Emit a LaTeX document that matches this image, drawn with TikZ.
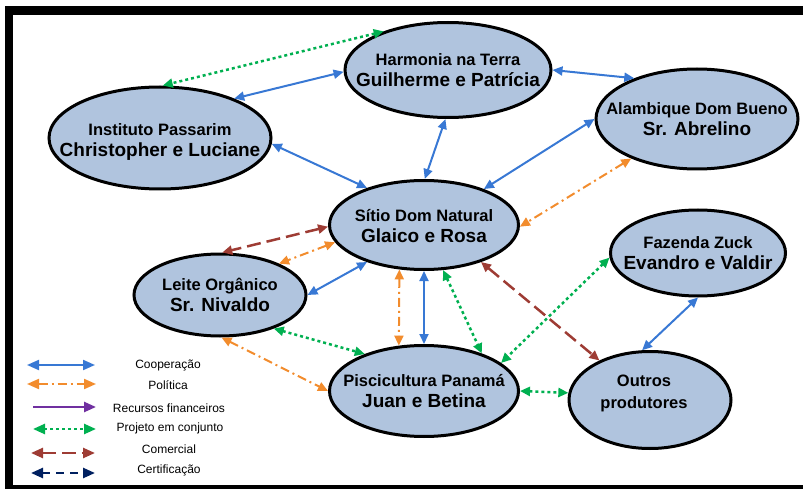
\documentclass[tikz,border=0pt]{standalone}
\usepackage{fontspec}
\setmainfont{Liberation Sans}
\usetikzlibrary{shapes.geometric,arrows.meta}
\definecolor{nodefill}{RGB}{176,196,222}
\definecolor{coopblue}{RGB}{56,120,212}
\definecolor{polorange}{RGB}{242,140,45}
\definecolor{finpurple}{RGB}{112,48,160}
\definecolor{projgreen}{RGB}{0,176,80}
\definecolor{combrown}{RGB}{158,60,52}
\definecolor{certnavy}{RGB}{0,32,96}
\newcommand{\fsA}{\fontsize{16.5}{21}\selectfont}
\newcommand{\fsB}{\fontsize{19}{21}\selectfont}
% two-line label that does not enlarge the ellipse
\newcommand{\twolines}[3]{\makebox[0pt]{\raisebox{#3}[0pt][0pt]{\begin{tabular}{@{}c@{}}#1\\#2\end{tabular}}}}
\begin{document}
\begin{tikzpicture}[x=1pt,y=-1pt,
  >={Triangle[length=10pt,width=9pt]},
  org/.style={ellipse, draw=black, line width=3pt, fill=nodefill, inner sep=0pt,
    font=\bfseries\fsA},
  coop/.style={draw=coopblue, line width=2pt, <->},
  pol/.style={draw=polorange, line width=2pt, dash pattern=on 9pt off 4pt on 2pt off 4pt, <->},
  fin/.style={draw=finpurple, line width=2.5pt, ->},
  proj/.style={draw=projgreen, line width=2.5pt, dash pattern=on 3pt off 3pt, <->},
  com/.style={draw=combrown, line width=2.5pt, dash pattern=on 14pt off 6pt, <->},
  cert/.style={draw=certnavy, line width=2.5pt, dash pattern=on 8pt off 6pt, <->},
  legtext/.style={font=\fontsize{12}{14}\selectfont, inner sep=0pt},
  legarrow/.style={>={Triangle[length=12pt,width=10pt]}}
]
\useasboundingbox (0,0) rectangle (803,489);
% frame
\fill[black] (5,6) rectangle (803,15);
\fill[black] (5,6) rectangle (13,489);
\fill[black] (5,485) rectangle (803,489);

% nodes
\node[org, minimum width=206pt, minimum height=95pt] (H) at (448,70)
  {\twolines{Harmonia na Terra}{\fsB Guilherme e Patrícia}{-6pt}};
\node[org, minimum width=222pt, minimum height=102pt] (I) at (160,138)
  {\twolines{Instituto Passarim}{\fsB Christopher e Luciane}{-8pt}};
\node[org, minimum width=202pt, minimum height=100pt] (A) at (697,119)
  {\twolines{Alambique Dom Bueno}{\fsB Sr. Abrelino}{-6pt}};
\node[org, minimum width=189pt, minimum height=89pt] (S) at (424,225)
  {\twolines{Sítio Dom Natural}{\fsB Glaico e Rosa}{-7pt}};
\node[org, minimum width=172pt, minimum height=82pt] (L) at (220,295)
  {\twolines{Leite Orgânico}{\fsB Sr. Nivaldo}{-6pt}};
\node[org, minimum width=189pt, minimum height=91pt] (P) at (424,391)
  {\twolines{Piscicultura Panamá}{\fsB Juan e Betina}{-6pt}};
\node[org, minimum width=175pt, minimum height=86pt] (F) at (698,253)
  {\twolines{Fazenda Zuck}{\fsB Evandro e Valdir}{-6pt}};
\node[org, minimum width=162pt, minimum height=97pt] (O) at (650,400)
  {\hspace*{-12pt}\makebox[0pt]{\raisebox{3pt}[0pt][0pt]{\fontsize{16.5}{22}\selectfont\begin{tabular}{@{}c@{}}Outros\\produtores\end{tabular}}}};

% cooperation
\draw[coop] (H.181) -- (I.28);
\draw[coop] (H.0) -- (A.147);
\draw[coop] (H.267) -- (S.89);
\draw[coop] (I.357) -- (S.147);
\draw[coop] (A.180) -- (S.31);
\draw[coop] (S.213) -- (L.0);
\draw[coop] (S.270) -- (P.90);
\draw[coop] (F.270) -- (O.99);
% politics
\draw[pol] (A.211) -- (S.359);
\draw[pol] (S.191) -- (L.28);
\draw[pol] (S.241) -- (P.119.5);
\draw[pol] (L.272) -- (P.180);
% joint project
\draw[proj] (H.149) -- (I.87);
\draw[proj] (L.328.5) -- (P.148);
\draw[proj] (S.293.6) -- (P.33);
\draw[proj] (F.183) -- (P.20);
\draw[proj] (P.0) -- (O.175);
% commercial
\draw[com] (S.181) -- (L.87);
\draw[com] (S.327) -- (O.142);

% legend
\coordinate (l1a) at (27,365); \coordinate (l1b) at (95,365);
\coordinate (l2a) at (27,384); \coordinate (l2b) at (96,384);
\coordinate (l3a) at (33,407); \coordinate (l3b) at (96,407);
\coordinate (l4a) at (33,429); \coordinate (l4b) at (96,429);
\coordinate (l5a) at (31,453); \coordinate (l5b) at (95,453);
\coordinate (l6a) at (31,473); \coordinate (l6b) at (95,473);
\begin{scope}[legarrow]
\draw[coop] (l1a) -- (l1b);
\draw[pol] (l2a) -- (l2b);
\draw[fin] (l3a) -- (l3b);
\draw[proj] (l4a) -- (l4b);
\draw[com] (l5a) -- (l5b);
\draw[cert] (l6a) -- (l6b);
\end{scope}
\node[legtext] (t1) at (168,365) {Cooperação};
\node[legtext] (t2) at (168,385) {Política};
\node[legtext] (t3) at (169,408) {Recursos financeiros};
\node[legtext] (t4) at (170,428) {Projeto em conjunto};
\node[legtext] (t5) at (169,449) {Comercial};
\node[legtext] (t6) at (169,470) {Certificação};
\end{tikzpicture}
\end{document}
